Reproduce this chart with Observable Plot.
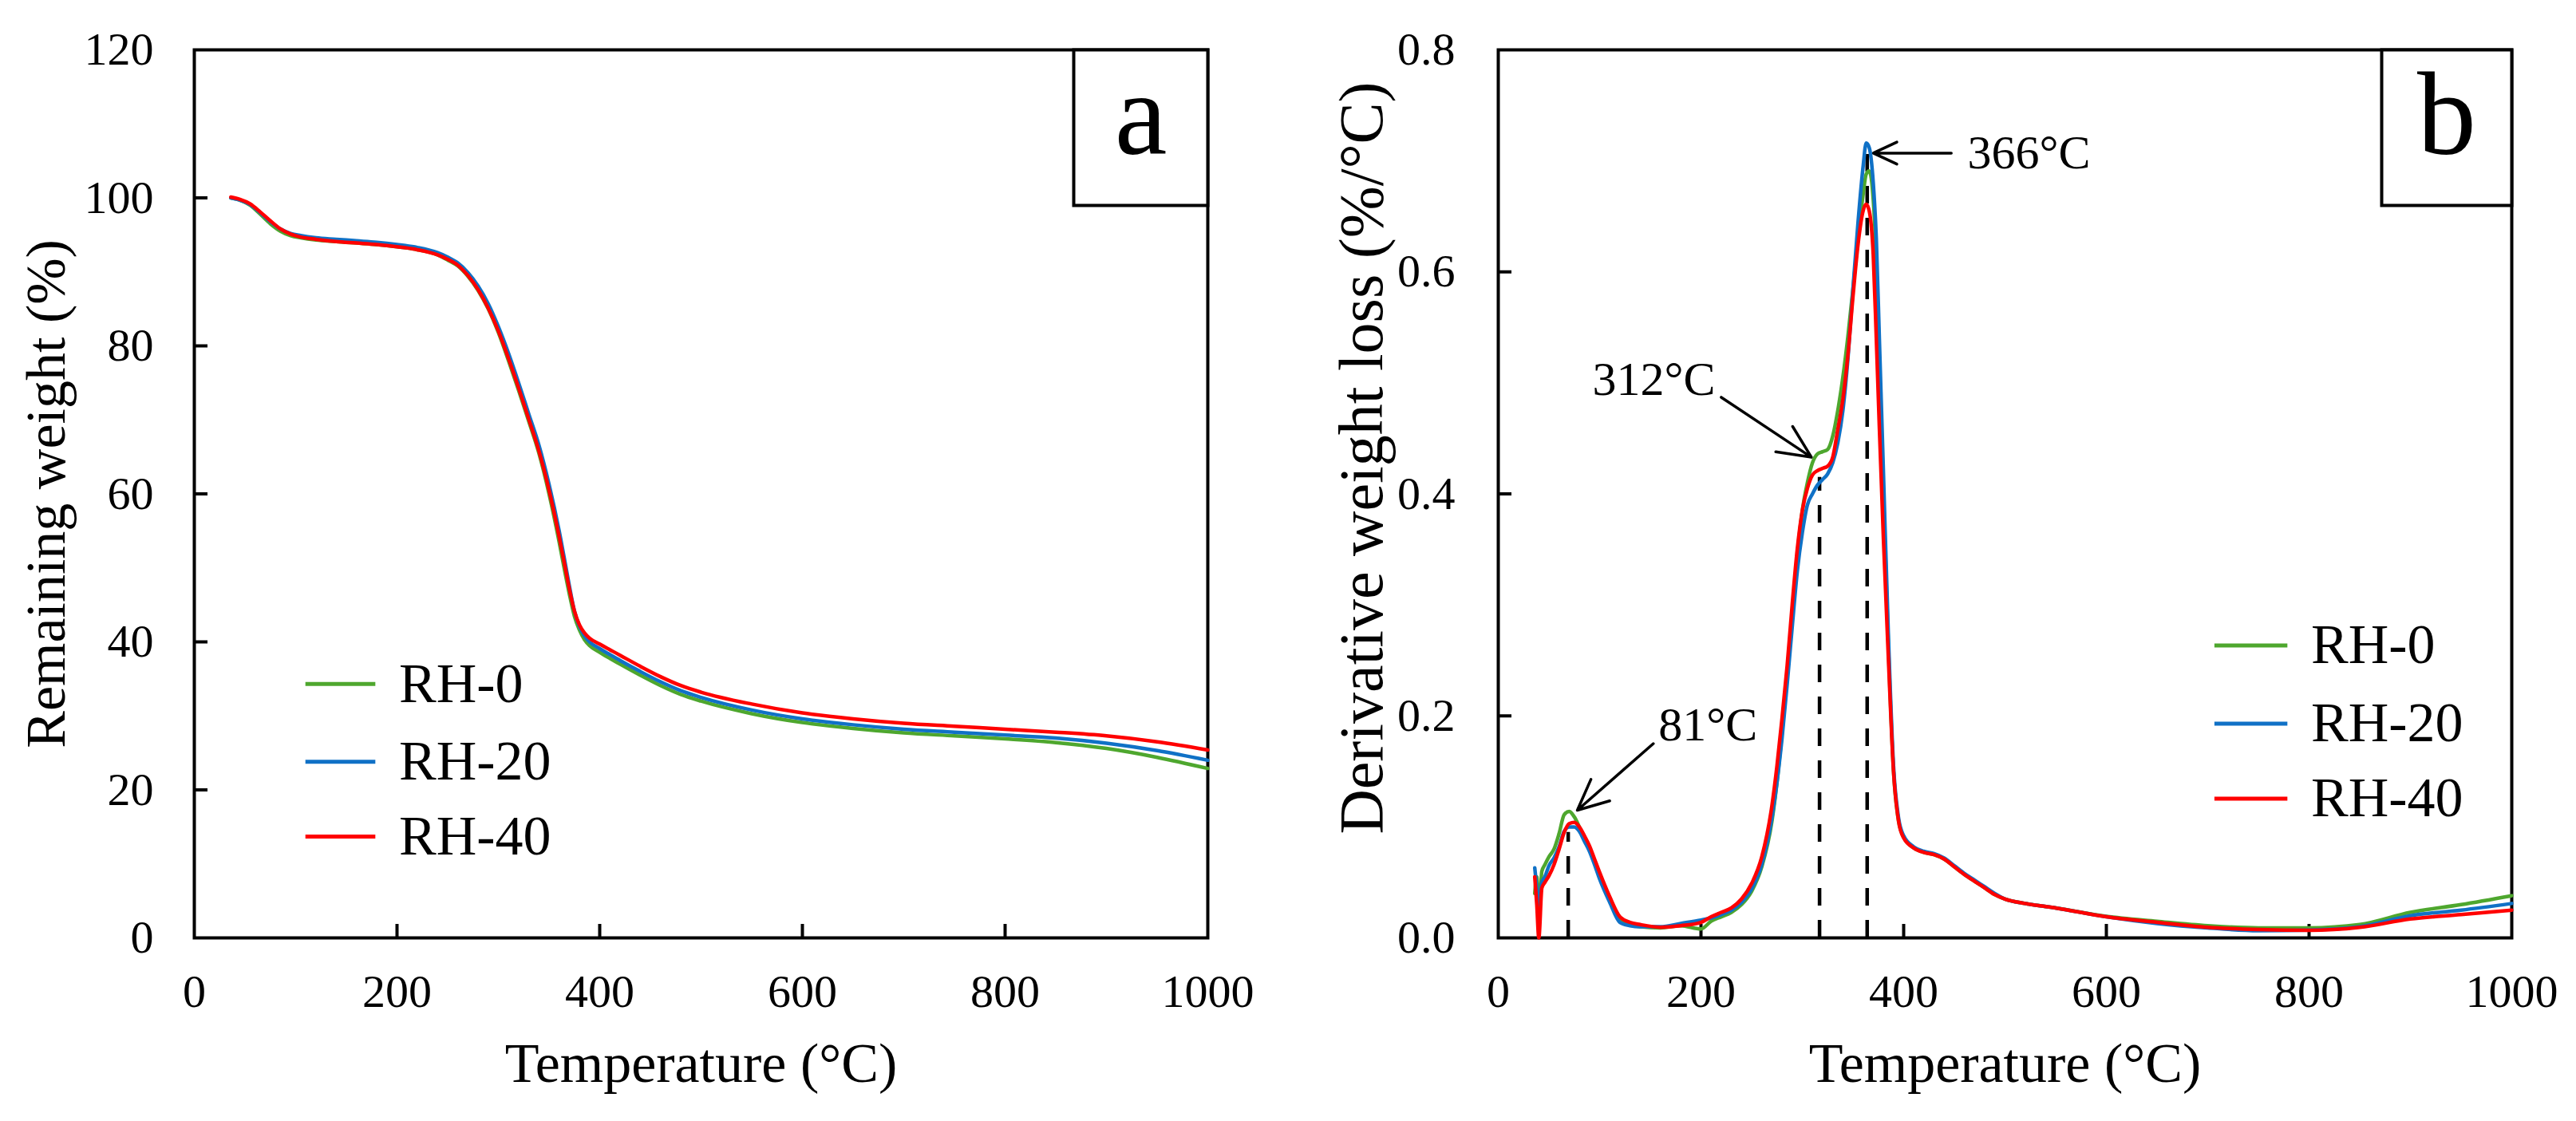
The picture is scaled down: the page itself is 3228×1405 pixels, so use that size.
<!DOCTYPE html>
<html>
<head>
<meta charset="utf-8">
<script src="https://cdn.jsdelivr.net/npm/d3@7"></script>
<script src="https://cdn.jsdelivr.net/npm/@observablehq/plot@0.6"></script>
<style>
  html, body { margin: 0; padding: 0; background: #fff; }
  #wrap { position: relative; width: 3228px; height: 1405px; background: #fff; overflow: hidden; }
  #wrap svg { position: absolute; top: 0; }
</style>
</head>
<body>
<div id="wrap"></div>
<script>
// ---------- data ----------
const seriesNames = ["RH-0", "RH-20", "RH-40"];
const seriesColors = ["#4EA72E", "#1071C6", "#FF0000"];

const xTicks = [0, 200, 400, 600, 800, 1000];
const tgTicks = [0, 20, 40, 60, 80, 100, 120];
const dtgTicks = [0, 0.2, 0.4, 0.6, 0.8];

// (a) TG curves
const tgTemps = [36,45,55,65,75,85,95,105,120,140,160,180,200,220,240,250,260,270,280,290,300,310,320,330,340,350,360,366,370,375,380,385,390,400,420,440,460,480,500,550,600,650,700,750,800,850,900,950,1000];
const tgRH0  = [100.0,99.7,99.0,97.8,96.5,95.5,94.9,94.6,94.3,94.1,93.9,93.7,93.4,93.0,92.3,91.6,90.8,89.4,87.5,85.0,81.8,78.0,74.0,69.8,65.5,60.0,53.5,49.2,46.5,43.5,41.6,40.3,39.5,38.6,37.0,35.5,34.1,32.9,32.0,30.3,29.1,28.3,27.7,27.3,26.9,26.4,25.6,24.4,22.9];
const tgRH20 = [100.0,99.7,99.1,98.0,96.8,95.8,95.2,94.9,94.6,94.4,94.2,94.0,93.7,93.3,92.6,92.0,91.2,89.9,88.1,85.7,82.6,79.0,75.0,70.8,66.6,61.3,55.0,50.6,47.6,44.2,42.1,40.8,40.0,39.1,37.5,36.0,34.6,33.4,32.5,30.8,29.6,28.8,28.2,27.8,27.4,27.0,26.3,25.3,24.0];
const tgRH40 = [100.1,99.8,99.2,98.1,96.9,95.8,95.1,94.7,94.4,94.1,93.9,93.7,93.4,93.0,92.3,91.7,90.9,89.5,87.6,85.1,82.0,78.3,74.3,70.1,65.8,60.5,54.2,50.0,47.2,44.2,42.3,41.2,40.5,39.7,38.2,36.7,35.3,34.1,33.2,31.6,30.4,29.6,29.0,28.6,28.2,27.8,27.3,26.5,25.4];

// (b) DTG curves
const dtgTemps = [36,38,40,43,46,50,55,60,65,70,75,80,85,90,95,100,110,120,130,140,160,180,200,210,220,230,240,250,260,270,275,280,285,290,295,300,305,310,315,320,325,330,335,340,345,350,355,360,363,366,370,373,376,380,385,390,395,400,410,420,430,440,450,460,470,480,490,500,520,550,600,650,700,750,800,850,900,950,1000];
const dtgRH0  = [0.040,0.055,0.020,0.060,0.066,0.073,0.080,0.094,0.111,0.114,0.109,0.100,0.090,0.080,0.068,0.055,0.034,0.016,0.012,0.010,0.009,0.011,0.008,0.015,0.019,0.023,0.030,0.042,0.064,0.105,0.140,0.185,0.235,0.290,0.345,0.385,0.410,0.428,0.436,0.438,0.440,0.452,0.475,0.505,0.542,0.585,0.630,0.670,0.688,0.691,0.665,0.610,0.520,0.400,0.260,0.150,0.105,0.091,0.081,0.077,0.075,0.071,0.064,0.057,0.051,0.045,0.039,0.035,0.031,0.027,0.0195,0.015,0.011,0.009,0.009,0.012,0.023,0.030,0.038];
const dtgRH20 = [0.063,0.045,0.030,0.050,0.055,0.065,0.072,0.082,0.096,0.100,0.100,0.096,0.087,0.078,0.066,0.053,0.032,0.014,0.011,0.010,0.010,0.013,0.016,0.018,0.021,0.025,0.032,0.044,0.066,0.108,0.140,0.180,0.228,0.280,0.330,0.365,0.390,0.400,0.408,0.413,0.418,0.428,0.446,0.475,0.522,0.585,0.645,0.695,0.716,0.712,0.680,0.630,0.540,0.420,0.270,0.155,0.108,0.092,0.082,0.078,0.076,0.072,0.065,0.058,0.052,0.046,0.040,0.035,0.031,0.027,0.019,0.013,0.009,0.0065,0.007,0.010,0.020,0.025,0.031];
const dtgRH40 = [0.055,0.030,0.000,0.045,0.050,0.056,0.066,0.080,0.095,0.103,0.104,0.100,0.092,0.083,0.071,0.059,0.037,0.019,0.014,0.012,0.0096,0.011,0.014,0.019,0.023,0.027,0.035,0.049,0.073,0.119,0.155,0.198,0.245,0.300,0.350,0.385,0.405,0.417,0.421,0.423,0.425,0.433,0.458,0.485,0.525,0.578,0.625,0.655,0.661,0.655,0.615,0.540,0.460,0.360,0.250,0.150,0.105,0.090,0.081,0.077,0.075,0.071,0.064,0.057,0.051,0.045,0.039,0.035,0.031,0.027,0.019,0.014,0.0095,0.0075,0.0068,0.0095,0.017,0.021,0.025];

// peak annotations in panel (b)
const peakLabels = ["81°C", "312°C", "366°C"];
const peakDashX = [69, 317, 364];
const peakDashTop = [0.095, 0.415, 0.707];
const arrowFromX = [153, 220, 447];
const arrowFromY = [0.175, 0.487, 0.707];
const arrowToX = [78, 309, 370];
const arrowToY = [0.115, 0.433, 0.707];
const peakLabelX = [158, 93, 463];
const peakLabelY = [0.192, 0.503, 0.707];

// legend placement (data coordinates of each panel)
const tgLegendY = [34.3, 23.8, 13.7];
const dtgLegendY = [0.2635, 0.193, 0.1254];

// ---------- helpers ----------
function toRows(temps, arrays) {
  const rows = [];
  arrays.forEach((arr, k) => arr.forEach((v, i) => rows.push({T: temps[i], v, s: seriesNames[k]})));
  return rows;
}
const tgRows = toRows(tgTemps, [tgRH0, tgRH20, tgRH40]);
const dtgRows = toRows(dtgTemps, [dtgRH0, dtgRH20, dtgRH40]);

const H = 1405, W = 1614, mTop = 62, mBottom = 230;
const plotH = H - mTop - mBottom;
const FONT = "'Liberation Serif', 'Times New Roman', serif";

function makePanel(o) {
  const plotW = W - o.marginLeft - o.marginRight;
  const legendRows = seriesNames.map((s, i) => ({s, y: o.legendY[i]}));
  const marks = [
    Plot.frame({stroke: "black", strokeWidth: 4}),
    Plot.tickX(xTicks.slice(1, -1), {x: d => d, stroke: "black", strokeWidth: 4, insetTop: plotH - 17}),
    Plot.tickY(o.yTicks.slice(1, -1), {y: d => d, stroke: "black", strokeWidth: 4, insetRight: plotW - 17}),
    Plot.axisX({ticks: xTicks, tickSize: 0, tickPadding: 45, fontSize: 58, label: null, tickFormat: d => String(d)}),
    Plot.axisY({ticks: o.yTicks, tickSize: 0, tickPadding: o.yPad, fontSize: 58, label: null, tickFormat: o.yFmt}),
    Plot.text(["Temperature (°C)"], {frameAnchor: "bottom", textAnchor: "middle", lineAnchor: "middle", dy: 158, fontSize: 70}),
    Plot.text([o.yTitle], {frameAnchor: "left", rotate: -90, textAnchor: "middle", lineAnchor: "middle", dx: o.yTitleDx, dy: o.yTitleDy, fontSize: o.yTitleSize}),
    ...(o.extra || []),
    Plot.line(o.rows, {x: "T", y: "v", z: "s", stroke: "s", strokeWidth: 4.5, curve: "monotone-x"}),
    Plot.frame({stroke: "black", strokeWidth: 4, fill: "white", insetLeft: o.boxInsetLeft, insetBottom: plotH - 195}),
    Plot.text([o.letter], {frameAnchor: "top-right", textAnchor: "middle", lineAnchor: "middle", dx: -o.boxW / 2, dy: 83, fontSize: 148}),
    Plot.ruleY(legendRows, {x1: o.legendX1, x2: o.legendX2, y: "y", stroke: "s", strokeWidth: 5}),
    Plot.text(legendRows, {x: o.legendTextX, y: "y", text: "s", textAnchor: "start", fontSize: 70})
  ];
  return Plot.plot({
    width: W, height: H,
    marginLeft: o.marginLeft, marginRight: o.marginRight, marginTop: mTop, marginBottom: mBottom,
    style: {fontFamily: FONT, fontSize: "58px", background: "white", color: "black", overflow: "visible"},
    x: {domain: [0, 1000]},
    y: {domain: o.yDomain},
    color: {domain: seriesNames, range: seriesColors},
    marks
  });
}

const peaks = peakLabels.map((label, i) => ({
  label, dx: peakDashX[i], top: peakDashTop[i],
  x1: arrowFromX[i], y1: arrowFromY[i], x2: arrowToX[i], y2: arrowToY[i],
  lx: peakLabelX[i], ly: peakLabelY[i]
}));

const left = makePanel({
  marginLeft: 243, marginRight: 101,
  yDomain: [0, 120], yTicks: tgTicks, yFmt: d => String(d), yPad: 51,
  yTitle: "Remaining weight (%)", yTitleDx: -185, yTitleDy: 0, yTitleSize: 70,
  rows: tgRows, letter: "a", boxInsetLeft: 1102, boxW: 168,
  legendY: tgLegendY, legendX1: 110, legendX2: 179, legendTextX: 202
});

const right = makePanel({
  marginLeft: 263, marginRight: 81,
  yDomain: [0, 0.8], yTicks: dtgTicks, yFmt: d3.format(".1f"), yPad: 54,
  yTitle: "Derivative weight loss (%/°C)", yTitleDx: -170, yTitleDy: -45, yTitleSize: 78,
  rows: dtgRows, letter: "b", boxInsetLeft: 1107, boxW: 163,
  legendY: dtgLegendY, legendX1: 707, legendX2: 779, legendTextX: 802,
  extra: [
    Plot.ruleX(peaks, {x: "dx", y1: () => 0, y2: "top", stroke: "black", strokeWidth: 4.5, strokeDasharray: "22,18"}),
    Plot.arrow(peaks, {x1: "x1", y1: "y1", x2: "x2", y2: "y2", stroke: "black", strokeWidth: 3.5, headLength: 28, headAngle: 50}),
    Plot.text(peaks, {x: "lx", y: "ly", text: "label", textAnchor: "start", fontSize: 60})
  ]
});

right.style.left = "1614px";
left.style.left = "0px";
document.getElementById("wrap").append(left, right);
</script>
</body>
</html>
